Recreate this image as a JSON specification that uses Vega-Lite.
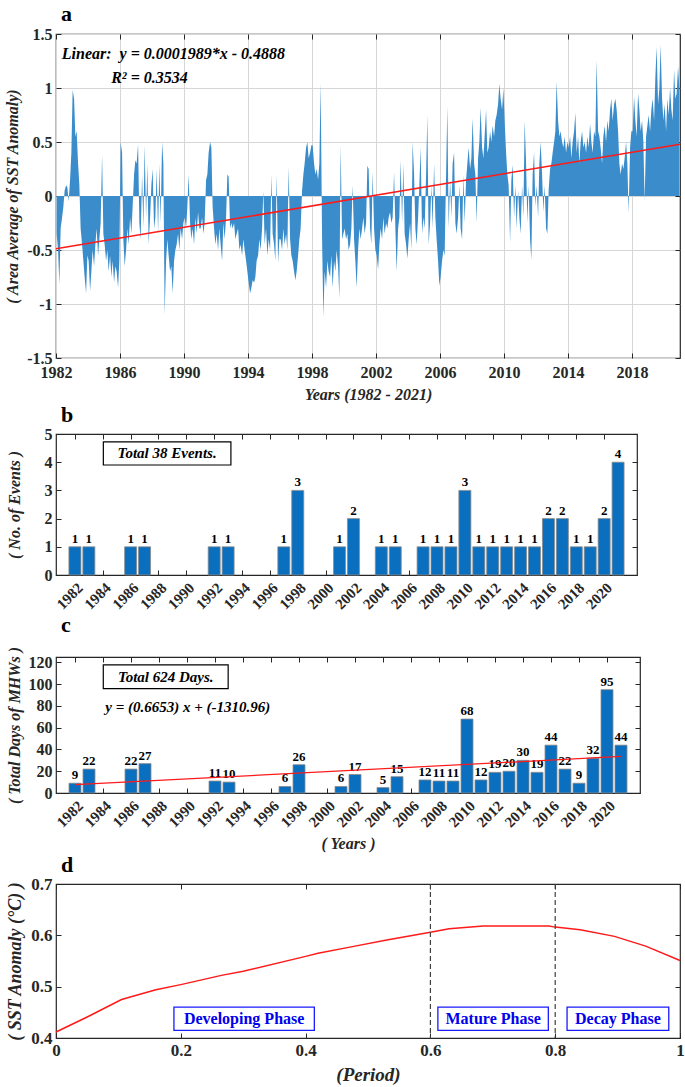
{
 "$schema": "https://vega.github.io/schema/vega-lite/v6.json",
 "background": "white",
 "padding": {"left": 4, "top": 2, "right": 2, "bottom": 2},
 "spacing": 0,
 "config": {
  "font": "Liberation Serif",
  "view": {"stroke": "#262626", "strokeWidth": 1.2},
  "axis": {"labelFont": "Liberation Serif", "labelFontWeight": "bold", "labelColor": "#262626", "titleFont": "Liberation Serif", "titleFontWeight": "bold", "titleFontStyle": "italic", "titleColor": "#262626", "domain": false, "tickColor": "#262626", "tickSize": -5, "grid": false, "labelFontSize": 16, "titleFontSize": 16, "labelPadding": 9, "labelOverlap": false, "labelFlush": false, "tickCount": 60},
  "title": {"font": "Liberation Serif", "fontWeight": "bold", "fontSize": 22, "anchor": "start", "frame": "group", "color": "black"},
  "text": {"font": "Liberation Serif"}
 },
 "vconcat": [
  {
   "width": 624, "height": 324,
   "title": {"text": "a", "dx": 5, "offset": 0},
   "resolve": {"axis": {"x": "independent", "y": "independent"}},
   "layer": [
    {
     "layer": [
      {
       "data": {"values": [
{"t":1982.04,"v":-0.35},{"t":1982.13,"v":-0.5},{"t":1982.21,"v":-0.82},{"t":1982.29,"v":-0.3},{"t":1982.38,"v":-0.2},{"t":1982.46,"v":-0.1},{"t":1982.54,"v":0.05},{"t":1982.63,"v":0.1},{"t":1982.71,"v":0.08},{"t":1982.79,"v":-0.05},{"t":1982.88,"v":0.15},{"t":1982.96,"v":0.4},
{"t":1983.04,"v":0.98},{"t":1983.13,"v":0.9},{"t":1983.21,"v":0.55},{"t":1983.29,"v":0.6},{"t":1983.38,"v":0.3},{"t":1983.46,"v":0.1},{"t":1983.54,"v":-0.3},{"t":1983.63,"v":-0.45},{"t":1983.71,"v":-0.6},{"t":1983.79,"v":-0.75},{"t":1983.88,"v":-0.9},{"t":1983.96,"v":-0.55},
{"t":1984.04,"v":-0.6},{"t":1984.13,"v":-0.88},{"t":1984.21,"v":-0.7},{"t":1984.29,"v":-0.5},{"t":1984.38,"v":-0.65},{"t":1984.46,"v":-0.45},{"t":1984.54,"v":-0.3},{"t":1984.63,"v":-0.55},{"t":1984.71,"v":-0.4},{"t":1984.79,"v":-0.25},{"t":1984.88,"v":0.38},{"t":1984.96,"v":-0.35},
{"t":1985.04,"v":-0.45},{"t":1985.13,"v":-0.6},{"t":1985.21,"v":-0.5},{"t":1985.29,"v":-0.7},{"t":1985.38,"v":-0.55},{"t":1985.46,"v":-0.75},{"t":1985.54,"v":-0.6},{"t":1985.63,"v":-0.8},{"t":1985.71,"v":-0.65},{"t":1985.79,"v":-0.7},{"t":1985.88,"v":-0.85},{"t":1985.96,"v":-0.6},
{"t":1986.04,"v":0.5},{"t":1986.13,"v":0.4},{"t":1986.21,"v":-0.4},{"t":1986.29,"v":-0.65},{"t":1986.38,"v":-0.5},{"t":1986.46,"v":-0.3},{"t":1986.54,"v":-0.45},{"t":1986.63,"v":-0.2},{"t":1986.71,"v":-0.35},{"t":1986.79,"v":-0.1},{"t":1986.88,"v":0.2},{"t":1986.96,"v":0.33},
{"t":1987.04,"v":0.3},{"t":1987.13,"v":0.48},{"t":1987.21,"v":-0.25},{"t":1987.29,"v":-0.4},{"t":1987.38,"v":0.2},{"t":1987.46,"v":-0.3},{"t":1987.54,"v":0.47},{"t":1987.63,"v":-0.2},{"t":1987.71,"v":0.3},{"t":1987.79,"v":-0.45},{"t":1987.88,"v":-0.2},{"t":1987.96,"v":0.1},
{"t":1988.04,"v":0.25},{"t":1988.13,"v":-0.3},{"t":1988.21,"v":-0.2},{"t":1988.29,"v":0.25},{"t":1988.38,"v":-0.35},{"t":1988.46,"v":0.3},{"t":1988.54,"v":-0.25},{"t":1988.63,"v":0.5},{"t":1988.71,"v":0.3},{"t":1988.79,"v":-1.1},{"t":1988.88,"v":-0.6},{"t":1988.96,"v":-0.4},
{"t":1989.04,"v":-0.55},{"t":1989.13,"v":-0.7},{"t":1989.21,"v":-0.65},{"t":1989.29,"v":-0.9},{"t":1989.38,"v":-0.6},{"t":1989.46,"v":-0.5},{"t":1989.54,"v":-0.45},{"t":1989.63,"v":-0.35},{"t":1989.71,"v":-0.5},{"t":1989.79,"v":-0.3},{"t":1989.88,"v":-0.4},{"t":1989.96,"v":-0.25},
{"t":1990.04,"v":-0.2},{"t":1990.13,"v":-0.3},{"t":1990.21,"v":-0.1},{"t":1990.29,"v":0.2},{"t":1990.38,"v":-0.25},{"t":1990.46,"v":-0.4},{"t":1990.54,"v":-0.3},{"t":1990.63,"v":-0.45},{"t":1990.71,"v":-0.2},{"t":1990.79,"v":-0.35},{"t":1990.88,"v":-0.15},{"t":1990.96,"v":-0.3},
{"t":1991.04,"v":-0.3},{"t":1991.13,"v":-0.2},{"t":1991.21,"v":-0.35},{"t":1991.29,"v":-0.25},{"t":1991.38,"v":0.15},{"t":1991.46,"v":0.2},{"t":1991.54,"v":0.4},{"t":1991.63,"v":0.5},{"t":1991.71,"v":0.45},{"t":1991.79,"v":-0.1},{"t":1991.88,"v":-0.3},{"t":1991.96,"v":-0.45},
{"t":1992.04,"v":-0.35},{"t":1992.13,"v":-0.5},{"t":1992.21,"v":-0.3},{"t":1992.29,"v":-0.45},{"t":1992.38,"v":-0.6},{"t":1992.46,"v":-0.25},{"t":1992.54,"v":-0.4},{"t":1992.63,"v":-0.2},{"t":1992.71,"v":0.2},{"t":1992.79,"v":0.18},{"t":1992.88,"v":-0.3},{"t":1992.96,"v":-0.25},
{"t":1993.04,"v":-0.3},{"t":1993.13,"v":-0.25},{"t":1993.21,"v":-0.4},{"t":1993.29,"v":-0.35},{"t":1993.38,"v":-0.3},{"t":1993.46,"v":-0.5},{"t":1993.54,"v":-0.45},{"t":1993.63,"v":-0.55},{"t":1993.71,"v":-0.4},{"t":1993.79,"v":-0.5},{"t":1993.88,"v":-0.6},{"t":1993.96,"v":-0.7},
{"t":1994.04,"v":-0.8},{"t":1994.13,"v":-0.9},{"t":1994.21,"v":-0.85},{"t":1994.29,"v":-0.78},{"t":1994.38,"v":-0.8},{"t":1994.46,"v":-0.75},{"t":1994.54,"v":-0.6},{"t":1994.63,"v":-0.55},{"t":1994.71,"v":-0.4},{"t":1994.79,"v":-0.5},{"t":1994.88,"v":-0.3},{"t":1994.96,"v":0.05},
{"t":1995.04,"v":-0.45},{"t":1995.13,"v":-0.3},{"t":1995.21,"v":-0.55},{"t":1995.29,"v":-0.4},{"t":1995.38,"v":-0.5},{"t":1995.46,"v":0.2},{"t":1995.54,"v":-0.35},{"t":1995.63,"v":-0.45},{"t":1995.71,"v":-0.6},{"t":1995.79,"v":0.2},{"t":1995.88,"v":-0.62},{"t":1995.96,"v":-0.4},
{"t":1996.04,"v":-0.4},{"t":1996.13,"v":-0.5},{"t":1996.21,"v":-0.3},{"t":1996.29,"v":-0.45},{"t":1996.38,"v":-0.35},{"t":1996.46,"v":-0.5},{"t":1996.54,"v":0.27},{"t":1996.63,"v":-0.4},{"t":1996.71,"v":-0.55},{"t":1996.79,"v":-0.6},{"t":1996.88,"v":-0.7},{"t":1996.96,"v":-0.78},
{"t":1997.04,"v":-0.7},{"t":1997.13,"v":-0.55},{"t":1997.21,"v":-0.4},{"t":1997.29,"v":-0.3},{"t":1997.38,"v":0.05},{"t":1997.46,"v":0.2},{"t":1997.54,"v":0.3},{"t":1997.63,"v":0.45},{"t":1997.71,"v":0.5},{"t":1997.79,"v":0.35},{"t":1997.88,"v":0.4},{"t":1997.96,"v":0.47},
{"t":1998.04,"v":0.47},{"t":1998.13,"v":0.3},{"t":1998.21,"v":0.2},{"t":1998.29,"v":0.25},{"t":1998.38,"v":0.15},{"t":1998.46,"v":0.3},{"t":1998.54,"v":1.05},{"t":1998.63,"v":-0.4},{"t":1998.71,"v":-1.12},{"t":1998.79,"v":-0.7},{"t":1998.88,"v":-0.85},{"t":1998.96,"v":-0.6},
{"t":1999.04,"v":-0.7},{"t":1999.13,"v":-0.75},{"t":1999.21,"v":-0.55},{"t":1999.29,"v":-0.85},{"t":1999.38,"v":-0.6},{"t":1999.46,"v":-0.7},{"t":1999.54,"v":-0.5},{"t":1999.63,"v":-0.65},{"t":1999.71,"v":-0.95},{"t":1999.79,"v":0.47},{"t":1999.88,"v":-0.4},{"t":1999.96,"v":-0.35},
{"t":2000.04,"v":-0.3},{"t":2000.13,"v":-0.4},{"t":2000.21,"v":-0.35},{"t":2000.29,"v":-0.5},{"t":2000.38,"v":-0.45},{"t":2000.46,"v":-0.3},{"t":2000.54,"v":0.1},{"t":2000.63,"v":-0.4},{"t":2000.71,"v":-0.6},{"t":2000.79,"v":-0.85},{"t":2000.88,"v":-0.5},{"t":2000.96,"v":-0.3},
{"t":2001.04,"v":-0.4},{"t":2001.13,"v":-0.3},{"t":2001.21,"v":-0.2},{"t":2001.29,"v":-0.35},{"t":2001.38,"v":-0.25},{"t":2001.46,"v":0.28},{"t":2001.54,"v":0.25},{"t":2001.63,"v":-0.3},{"t":2001.71,"v":-0.45},{"t":2001.79,"v":0.22},{"t":2001.88,"v":-0.3},{"t":2001.96,"v":-0.5},
{"t":2002.04,"v":-0.55},{"t":2002.13,"v":-0.68},{"t":2002.21,"v":-0.45},{"t":2002.29,"v":-0.3},{"t":2002.38,"v":-0.4},{"t":2002.46,"v":-0.2},{"t":2002.54,"v":-0.35},{"t":2002.63,"v":-0.25},{"t":2002.71,"v":-0.3},{"t":2002.79,"v":-0.2},{"t":2002.88,"v":-0.15},{"t":2002.96,"v":-0.25},
{"t":2003.04,"v":-0.2},{"t":2003.13,"v":0.22},{"t":2003.21,"v":-0.3},{"t":2003.29,"v":-0.7},{"t":2003.38,"v":-0.3},{"t":2003.46,"v":-0.2},{"t":2003.54,"v":0.33},{"t":2003.63,"v":-0.25},{"t":2003.71,"v":0.3},{"t":2003.79,"v":-0.35},{"t":2003.88,"v":-0.45},{"t":2003.96,"v":-0.58},
{"t":2004.04,"v":-0.4},{"t":2004.13,"v":-0.25},{"t":2004.21,"v":-0.5},{"t":2004.29,"v":0.5},{"t":2004.38,"v":0.2},{"t":2004.46,"v":-0.3},{"t":2004.54,"v":-0.45},{"t":2004.63,"v":-0.2},{"t":2004.71,"v":0.1},{"t":2004.79,"v":0.45},{"t":2004.88,"v":-0.35},{"t":2004.96,"v":-0.2},
{"t":2005.04,"v":-0.3},{"t":2005.13,"v":0.2},{"t":2005.21,"v":0.75},{"t":2005.29,"v":-0.45},{"t":2005.38,"v":-0.25},{"t":2005.46,"v":0.1},{"t":2005.54,"v":-0.3},{"t":2005.63,"v":0.3},{"t":2005.71,"v":-0.2},{"t":2005.79,"v":-0.4},{"t":2005.88,"v":-0.6},{"t":2005.96,"v":-0.83},
{"t":2006.04,"v":-0.75},{"t":2006.13,"v":-0.6},{"t":2006.21,"v":-0.5},{"t":2006.29,"v":-0.55},{"t":2006.38,"v":0.2},{"t":2006.46,"v":0.83},{"t":2006.54,"v":-0.3},{"t":2006.63,"v":0.15},{"t":2006.71,"v":-0.2},{"t":2006.79,"v":0.3},{"t":2006.88,"v":0.4},{"t":2006.96,"v":-0.25},
{"t":2007.04,"v":-0.35},{"t":2007.13,"v":-0.2},{"t":2007.21,"v":0.1},{"t":2007.29,"v":-0.3},{"t":2007.38,"v":-0.4},{"t":2007.46,"v":0.2},{"t":2007.54,"v":-0.25},{"t":2007.63,"v":0.15},{"t":2007.71,"v":0.3},{"t":2007.79,"v":0.45},{"t":2007.88,"v":0.25},{"t":2007.96,"v":0.35},
{"t":2008.04,"v":0.72},{"t":2008.13,"v":0.3},{"t":2008.21,"v":0.2},{"t":2008.29,"v":-0.25},{"t":2008.38,"v":0.35},{"t":2008.46,"v":0.5},{"t":2008.54,"v":0.82},{"t":2008.63,"v":0.45},{"t":2008.71,"v":0.35},{"t":2008.79,"v":0.55},{"t":2008.88,"v":0.8},{"t":2008.96,"v":0.4},
{"t":2009.04,"v":0.45},{"t":2009.13,"v":0.6},{"t":2009.21,"v":0.5},{"t":2009.29,"v":0.65},{"t":2009.38,"v":0.55},{"t":2009.46,"v":0.7},{"t":2009.54,"v":0.75},{"t":2009.63,"v":0.85},{"t":2009.71,"v":1.04},{"t":2009.79,"v":0.9},{"t":2009.88,"v":0.8},{"t":2009.96,"v":1.0},
{"t":2010.04,"v":0.7},{"t":2010.13,"v":0.4},{"t":2010.21,"v":0.2},{"t":2010.29,"v":0.1},{"t":2010.38,"v":-0.43},{"t":2010.46,"v":0.15},{"t":2010.54,"v":0.29},{"t":2010.63,"v":-0.2},{"t":2010.71,"v":0.1},{"t":2010.79,"v":-0.3},{"t":2010.88,"v":0.05},{"t":2010.96,"v":-0.2},
{"t":2011.04,"v":-0.35},{"t":2011.13,"v":0.1},{"t":2011.21,"v":-0.2},{"t":2011.29,"v":0.7},{"t":2011.38,"v":0.3},{"t":2011.46,"v":-0.25},{"t":2011.54,"v":0.1},{"t":2011.63,"v":-0.4},{"t":2011.71,"v":-0.59},{"t":2011.79,"v":0.2},{"t":2011.88,"v":0.4},{"t":2011.96,"v":-0.1},
{"t":2012.04,"v":0.1},{"t":2012.13,"v":-0.2},{"t":2012.21,"v":0.3},{"t":2012.29,"v":0.5},{"t":2012.38,"v":0.2},{"t":2012.46,"v":-0.15},{"t":2012.54,"v":0.1},{"t":2012.63,"v":-0.3},{"t":2012.71,"v":-0.35},{"t":2012.79,"v":0.05},{"t":2012.88,"v":0.25},{"t":2012.96,"v":0.3},
{"t":2013.04,"v":0.4},{"t":2013.13,"v":0.5},{"t":2013.21,"v":0.6},{"t":2013.29,"v":1.06},{"t":2013.38,"v":0.7},{"t":2013.46,"v":0.55},{"t":2013.54,"v":0.6},{"t":2013.63,"v":0.5},{"t":2013.71,"v":0.45},{"t":2013.79,"v":0.55},{"t":2013.88,"v":0.4},{"t":2013.96,"v":0.5},
{"t":2014.04,"v":0.45},{"t":2014.13,"v":0.55},{"t":2014.21,"v":0.35},{"t":2014.29,"v":0.5},{"t":2014.38,"v":0.6},{"t":2014.46,"v":0.77},{"t":2014.54,"v":0.4},{"t":2014.63,"v":0.55},{"t":2014.71,"v":0.3},{"t":2014.79,"v":0.5},{"t":2014.88,"v":0.6},{"t":2014.96,"v":0.45},
{"t":2015.04,"v":0.5},{"t":2015.13,"v":0.4},{"t":2015.21,"v":0.55},{"t":2015.29,"v":0.45},{"t":2015.38,"v":0.67},{"t":2015.46,"v":0.5},{"t":2015.54,"v":0.4},{"t":2015.63,"v":0.6},{"t":2015.71,"v":0.55},{"t":2015.79,"v":1.26},{"t":2015.88,"v":0.6},{"t":2015.96,"v":0.55},
{"t":2016.04,"v":0.45},{"t":2016.13,"v":0.3},{"t":2016.21,"v":0.55},{"t":2016.29,"v":0.65},{"t":2016.38,"v":0.5},{"t":2016.46,"v":0.7},{"t":2016.54,"v":0.6},{"t":2016.63,"v":0.8},{"t":2016.71,"v":0.9},{"t":2016.79,"v":0.7},{"t":2016.88,"v":0.85},{"t":2016.96,"v":0.9},
{"t":2017.04,"v":0.8},{"t":2017.13,"v":0.6},{"t":2017.21,"v":0.3},{"t":2017.29,"v":0.2},{"t":2017.38,"v":0.3},{"t":2017.46,"v":0.25},{"t":2017.54,"v":0.35},{"t":2017.63,"v":0.5},{"t":2017.71,"v":0.3},{"t":2017.79,"v":-0.16},{"t":2017.88,"v":0.45},{"t":2017.96,"v":0.6},
{"t":2018.04,"v":0.6},{"t":2018.13,"v":0.92},{"t":2018.21,"v":0.7},{"t":2018.29,"v":0.55},{"t":2018.38,"v":0.95},{"t":2018.46,"v":0.8},{"t":2018.54,"v":0.6},{"t":2018.63,"v":0.7},{"t":2018.71,"v":0.5},{"t":2018.79,"v":-0.04},{"t":2018.88,"v":0.55},{"t":2018.96,"v":0.65},
{"t":2019.04,"v":0.75},{"t":2019.13,"v":0.6},{"t":2019.21,"v":0.8},{"t":2019.29,"v":0.9},{"t":2019.38,"v":0.7},{"t":2019.46,"v":1.1},{"t":2019.54,"v":1.38},{"t":2019.63,"v":0.85},{"t":2019.71,"v":1.0},{"t":2019.79,"v":1.4},{"t":2019.88,"v":0.9},{"t":2019.96,"v":0.7},
{"t":2020.04,"v":0.85},{"t":2020.13,"v":0.6},{"t":2020.21,"v":0.9},{"t":2020.29,"v":0.75},{"t":2020.38,"v":1.0},{"t":2020.46,"v":0.8},{"t":2020.54,"v":0.7},{"t":2020.63,"v":1.17},{"t":2020.71,"v":0.9},{"t":2020.79,"v":0.95},{"t":2020.88,"v":1.2},{"t":2020.96,"v":1.0}
       ]},
       "mark": {"type": "area", "color": "#3a8dca", "interpolate": "linear"},
       "encoding": {
        "x": {"field": "t", "type": "quantitative", "scale": {"domain": [1982, 2021], "nice": false, "zero": false},
              "axis": {"values": [1982,1986,1990,1994,1998,2002,2006,2010,2014,2018], "format": "d", "grid": true, "gridColor": "#d6d6d6", "labelPadding": 11, "title": "Years (1982 - 2021)", "titlePadding": 6}},
        "y": {"field": "v", "type": "quantitative", "scale": {"domain": [-1.5, 1.5], "nice": false},
              "axis": {"values": [-1.5,-1,-0.5,0,0.5,1,1.5], "format": "~g", "labelExpr": "replace(datum.label, '\u2212', '-')", "grid": true, "gridColor": "#d6d6d6", "title": "( Area Average of SST Anomaly)", "titlePadding": 6}},
        "y2": {"datum": 0}
       }
      },
      {
       "data": {"values": [{"t": 1982, "fit": -0.4888}, {"t": 2021, "fit": 0.479}]},
       "mark": {"type": "line", "color": "#ff1a1a", "strokeWidth": 1.5},
       "encoding": {"x": {"field": "t", "type": "quantitative"}, "y": {"field": "fit", "type": "quantitative"}}
      },
      {
       "data": {"values": [{}]},
       "mark": {"type": "text", "text": "Linear:\u00a0\u00a0y = 0.0001989*x - 0.4888", "align": "left", "baseline": "middle", "fontSize": 16, "fontStyle": "italic", "fontWeight": "bold", "color": "black"},
       "encoding": {"x": {"datum": 1982.36}, "y": {"datum": 1.315}}
      },
      {
       "data": {"values": [{}]},
       "mark": {"type": "text", "text": "R² = 0.3534", "align": "left", "baseline": "middle", "fontSize": 16, "fontStyle": "italic", "fontWeight": "bold", "color": "black"},
       "encoding": {"x": {"datum": 1985.45}, "y": {"datum": 1.09}}
      }
     ]
    },
    {
     "data": {"values": [{"t": 1982, "fit": -0.4888}]},
     "mark": {"type": "point", "opacity": 0},
     "encoding": {
      "x": {"field": "t", "type": "quantitative", "axis": {"orient": "top", "values": [1982,1986,1990,1994,1998,2002,2006,2010,2014,2018], "labels": false, "title": null}},
      "y": {"field": "fit", "type": "quantitative", "axis": {"orient": "right", "values": [-1.5,-1,-0.5,0,0.5,1,1.5], "labels": false, "title": null}}
     }
    }
   ]
  },
  {
   "width": 581, "height": 141,
   "title": {"text": "b", "dx": 5, "offset": -1},
   "resolve": {"axis": {"x": "independent", "y": "independent"}},
   "layer": [
    {
     "layer": [
      {
       "data": {"values": [{"year":1982,"n":1},{"year":1983,"n":1},{"year":1986,"n":1},{"year":1987,"n":1},{"year":1992,"n":1},{"year":1993,"n":1},{"year":1997,"n":1},{"year":1998,"n":3},{"year":2001,"n":1},{"year":2002,"n":2},{"year":2004,"n":1},{"year":2005,"n":1},{"year":2007,"n":1},{"year":2008,"n":1},{"year":2009,"n":1},{"year":2010,"n":3},{"year":2011,"n":1},{"year":2012,"n":1},{"year":2013,"n":1},{"year":2014,"n":1},{"year":2015,"n":1},{"year":2016,"n":2},{"year":2017,"n":2},{"year":2018,"n":1},{"year":2019,"n":1},{"year":2020,"n":2},{"year":2021,"n":4}]},
       "layer": [
        {
         "mark": {"type": "bar", "size": 12, "color": "#0b6fbf", "stroke": "#8a8a8a", "strokeWidth": 0.8},
         "encoding": {
          "x": {"field": "year", "type": "quantitative", "scale": {"domain": [1981, 2022], "nice": false, "zero": false},
                "axis": {"values": [1982,1984,1986,1988,1990,1992,1994,1996,1998,2000,2002,2004,2006,2008,2010,2012,2014,2016,2018,2020], "tickCount": 60, "format": "d", "labelAngle": -45, "labelFontSize": 15, "labelPadding": 10, "labelOverlap": false, "title": null}},
          "y": {"field": "n", "type": "quantitative", "scale": {"domain": [0, 5], "nice": false},
                "axis": {"values": [0,1,2,3,4,5], "format": "d", "title": "( No. of Events )", "titlePadding": 22}}
         }
        },
        {
         "mark": {"type": "text", "baseline": "bottom", "dy": -1, "fontSize": 13, "fontWeight": "bold", "color": "black"},
         "encoding": {"x": {"field": "year", "type": "quantitative"}, "y": {"field": "n", "type": "quantitative"}, "text": {"field": "n"}}
        }
       ]
      },
      {
       "data": {"values": [{}]},
       "mark": {"type": "rect", "fill": "white", "stroke": "black", "strokeWidth": 1.2},
       "encoding": {"x": {"datum": 1984.04}, "x2": {"datum": 1993.2}, "y": {"datum": 4.72}, "y2": {"datum": 3.9}}
      },
      {
       "data": {"values": [{}]},
       "mark": {"type": "text", "text": "Total 38 Events.", "align": "center", "baseline": "middle", "fontSize": 15, "fontStyle": "italic", "fontWeight": "bold", "color": "black"},
       "encoding": {"x": {"datum": 1988.62}, "y": {"datum": 4.31}}
      }
     ]
    },
    {
     "data": {"values": [{"year": 1982, "n": 1}]},
     "mark": {"type": "point", "opacity": 0},
     "encoding": {
      "x": {"field": "year", "type": "quantitative", "axis": {"orient": "top", "values": [1982,1984,1986,1988,1990,1992,1994,1996,1998,2000,2002,2004,2006,2008,2010,2012,2014,2016,2018,2020], "tickCount": 60, "labels": false, "title": null}},
      "y": {"field": "n", "type": "quantitative", "axis": {"orient": "right", "values": [0,1,2,3,4,5], "labels": false, "title": null}}
     }
    }
   ]
  },
  {
   "width": 584, "height": 136,
   "title": {"text": "c", "dx": 5, "offset": 9},
   "resolve": {"axis": {"x": "independent", "y": "independent"}},
   "layer": [
    {
     "layer": [
      {
       "data": {"values": [{"year":1982,"d":9},{"year":1983,"d":22},{"year":1986,"d":22},{"year":1987,"d":27},{"year":1992,"d":11},{"year":1993,"d":10},{"year":1997,"d":6},{"year":1998,"d":26},{"year":2001,"d":6},{"year":2002,"d":17},{"year":2004,"d":5},{"year":2005,"d":15},{"year":2007,"d":12},{"year":2008,"d":11},{"year":2009,"d":11},{"year":2010,"d":68},{"year":2011,"d":12},{"year":2012,"d":19},{"year":2013,"d":20},{"year":2014,"d":30},{"year":2015,"d":19},{"year":2016,"d":44},{"year":2017,"d":22},{"year":2018,"d":9},{"year":2019,"d":32},{"year":2020,"d":95},{"year":2021,"d":44}]},
       "layer": [
        {
         "mark": {"type": "bar", "size": 12, "color": "#0b6fbf", "stroke": "#8a8a8a", "strokeWidth": 0.8},
         "encoding": {
          "x": {"field": "year", "type": "quantitative", "scale": {"domain": [1981, 2022], "nice": false, "zero": false},
                "axis": {"values": [1982,1984,1986,1988,1990,1992,1994,1996,1998,2000,2002,2004,2006,2008,2010,2012,2014,2016,2018,2020], "tickCount": 60, "format": "d", "labelAngle": -45, "labelFontSize": 15, "labelPadding": 10, "labelOverlap": false, "title": "( Years )", "titlePadding": 6}},
          "y": {"field": "d", "type": "quantitative", "scale": {"domain": [0, 125], "nice": false},
                "axis": {"values": [0,20,40,60,80,100,120], "format": "d", "title": "( Total Days of MHWs )", "titlePadding": 6}}
         }
        },
        {
         "mark": {"type": "text", "baseline": "bottom", "dy": -1, "fontSize": 13, "fontWeight": "bold", "color": "black"},
         "encoding": {"x": {"field": "year", "type": "quantitative"}, "y": {"field": "d", "type": "quantitative"}, "text": {"field": "d"}}
        }
       ]
      },
      {
       "data": {"values": [{"year": 1982, "fit": 7.66}, {"year": 2021, "fit": 33.6}]},
       "mark": {"type": "line", "color": "#ff1a1a", "strokeWidth": 1.3},
       "encoding": {"x": {"field": "year", "type": "quantitative"}, "y": {"field": "fit", "type": "quantitative"}}
      },
      {
       "data": {"values": [{}]},
       "mark": {"type": "rect", "fill": "white", "stroke": "black", "strokeWidth": 1.2},
       "encoding": {"x": {"datum": 1984.02}, "x2": {"datum": 1992.94}, "y": {"datum": 117.7}, "y2": {"datum": 95.9}}
      },
      {
       "data": {"values": [{}]},
       "mark": {"type": "text", "text": "Total 624 Days.", "align": "center", "baseline": "middle", "fontSize": 15, "fontStyle": "italic", "fontWeight": "bold", "color": "black"},
       "encoding": {"x": {"datum": 1988.48}, "y": {"datum": 106.8}}
      },
      {
       "data": {"values": [{}]},
       "mark": {"type": "text", "text": "y = (0.6653) x + (-1310.96)", "align": "left", "baseline": "middle", "fontSize": 15, "fontStyle": "italic", "fontWeight": "bold", "color": "black"},
       "encoding": {"x": {"datum": 1984.16}, "y": {"datum": 79.4}}
      }
     ]
    },
    {
     "data": {"values": [{"year": 1982, "d": 9}]},
     "mark": {"type": "point", "opacity": 0},
     "encoding": {
      "x": {"field": "year", "type": "quantitative", "axis": {"orient": "top", "values": [1982,1984,1986,1988,1990,1992,1994,1996,1998,2000,2002,2004,2006,2008,2010,2012,2014,2016,2018,2020], "tickCount": 60, "labels": false, "title": null}},
      "y": {"field": "d", "type": "quantitative", "axis": {"orient": "right", "values": [0,20,40,60,80,100,120], "labels": false, "title": null}}
     }
    }
   ]
  },
  {
   "width": 624, "height": 154,
   "title": {"text": "d", "dx": 5, "offset": -2},
   "resolve": {"axis": {"x": "independent", "y": "independent"}},
   "layer": [
    {
     "layer": [
      {
       "data": {"values": [{"p":0,"sst":0.4117},{"p":0.05,"sst":0.441},{"p":0.105,"sst":0.475},{"p":0.16,"sst":0.494},{"p":0.2,"sst":0.504},{"p":0.265,"sst":0.522},{"p":0.3,"sst":0.53},{"p":0.4,"sst":0.559},{"p":0.42,"sst":0.565},{"p":0.475,"sst":0.578},{"p":0.53,"sst":0.591},{"p":0.6,"sst":0.606},{"p":0.63,"sst":0.613},{"p":0.685,"sst":0.618},{"p":0.79,"sst":0.618},{"p":0.8,"sst":0.616},{"p":0.84,"sst":0.611},{"p":0.895,"sst":0.598},{"p":0.945,"sst":0.579},{"p":1,"sst":0.551}]},
       "mark": {"type": "line", "color": "#ff1a1a", "strokeWidth": 1.5},
       "encoding": {
        "x": {"field": "p", "type": "quantitative", "scale": {"domain": [0, 1], "nice": false},
              "axis": {"values": [0,0.2,0.4,0.6,0.8,1], "format": "~g", "labelFontSize": 17, "title": "(Period)", "titleFontSize": 19, "titlePadding": 7}},
        "y": {"field": "sst", "type": "quantitative", "scale": {"domain": [0.4, 0.7], "nice": false, "zero": false},
              "axis": {"values": [0.4,0.5,0.6,0.7], "format": ".1f", "labelFontSize": 17, "title": "( SST Anomaly (°C) )", "titleFontSize": 18, "titlePadding": 6}}
       }
      },
      {
       "data": {"values": [{"p": 0.6}, {"p": 0.8}]},
       "mark": {"type": "rule", "color": "#404040", "strokeDash": [5, 3], "strokeWidth": 1.2},
       "encoding": {"x": {"field": "p", "type": "quantitative"}}
      },
      {
       "data": {"values": [{}]},
       "mark": {"type": "rect", "fill": "white", "stroke": "#1a1aff", "strokeWidth": 1.3},
       "encoding": {"x": {"datum": 0.189}, "x2": {"datum": 0.414}, "y": {"datum": 0.46}, "y2": {"datum": 0.415}}
      },
      {
       "data": {"values": [{}]},
       "mark": {"type": "text", "text": "Developing Phase", "align": "center", "baseline": "middle", "fontSize": 16, "fontWeight": "bold", "color": "#0000ee"},
       "encoding": {"x": {"datum": 0.3015}, "y": {"datum": 0.4375}}
      },
      {
       "data": {"values": [{}]},
       "mark": {"type": "rect", "fill": "white", "stroke": "#1a1aff", "strokeWidth": 1.3},
       "encoding": {"x": {"datum": 0.612}, "x2": {"datum": 0.789}, "y": {"datum": 0.46}, "y2": {"datum": 0.415}}
      },
      {
       "data": {"values": [{}]},
       "mark": {"type": "text", "text": "Mature Phase", "align": "center", "baseline": "middle", "fontSize": 16, "fontWeight": "bold", "color": "#0000ee"},
       "encoding": {"x": {"datum": 0.7005}, "y": {"datum": 0.4375}}
      },
      {
       "data": {"values": [{}]},
       "mark": {"type": "rect", "fill": "white", "stroke": "#1a1aff", "strokeWidth": 1.3},
       "encoding": {"x": {"datum": 0.819}, "x2": {"datum": 0.982}, "y": {"datum": 0.46}, "y2": {"datum": 0.415}}
      },
      {
       "data": {"values": [{}]},
       "mark": {"type": "text", "text": "Decay Phase", "align": "center", "baseline": "middle", "fontSize": 16, "fontWeight": "bold", "color": "#0000ee"},
       "encoding": {"x": {"datum": 0.9005}, "y": {"datum": 0.4375}}
      }
     ]
    },
    {
     "data": {"values": [{"p": 0, "sst": 0.4}]},
     "mark": {"type": "point", "opacity": 0},
     "encoding": {
      "x": {"field": "p", "type": "quantitative", "axis": {"orient": "top", "values": [0,0.2,0.4,0.6,0.8,1], "labels": false, "title": null}},
      "y": {"field": "sst", "type": "quantitative", "axis": {"orient": "right", "values": [0.4,0.5,0.6,0.7], "labels": false, "title": null}}
     }
    }
   ]
  }
 ]
}
